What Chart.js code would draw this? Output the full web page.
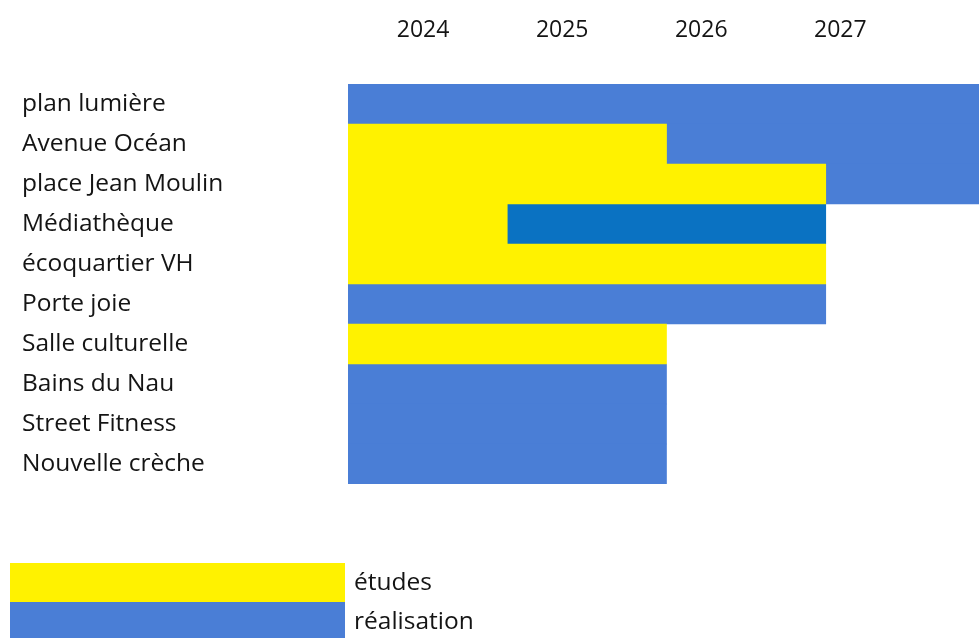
<!DOCTYPE html>
<html>
<head>
<meta charset="utf-8">
<title>Planning des projets</title>
<script src="https://cdn.jsdelivr.net/npm/chart.js@4/dist/chart.umd.min.js"></script>
<style>
  html, body { margin: 0; padding: 0; overflow: hidden; background: #fff; }
  #wrap { position: absolute; left: 0; top: 0; }
</style>
</head>
<body>
<div id="wrap"><canvas id="planning" width="985" height="638"></canvas></div>
<script>
var projects = ['plan lumière', 'Avenue Océan', 'place Jean Moulin', 'Médiathèque', 'écoquartier VH',
                'Porte joie', 'Salle culturelle', 'Bains du Nau', 'Street Fitness', 'Nouvelle crèche'];
var years = ['2024', '2025', '2026', '2027'];

// [début, fin] de chaque phase, null quand il n'y en a pas
var etudes = [null, [2024, 2026], [2024, 2027], [2024, 2025], [2024, 2027],
              null, [2024, 2026], null, null, null];
var realisation = [[2024, 2028], [2026, 2028], [2027, 2028], [2025, 2027], null,
                   [2024, 2027], null, [2024, 2026], [2024, 2026], [2024, 2026]];

var YELLOW = '#fff200';
var BLUE = '#4a7ed6';
var DARK_BLUE = '#0a72c2';
var TEXT = '#141414';
var FONT = '"Open Sans"';

// légende en blocs empilés sous le planning
var legendBlocks = {
  id: 'legendBlocks',
  afterDraw: function(chart) {
    var ctx = chart.ctx;
    var items = Chart.defaults.plugins.legend.labels.generateLabels(chart);
    ctx.save();
    ctx.font = '24.5px ' + FONT;
    ctx.textBaseline = 'middle';
    ctx.textAlign = 'left';
    items.forEach(function(item, i) {
      var top = 563 + i * 39;
      ctx.fillStyle = item.fillStyle;
      ctx.fillRect(10, top, 335, 39);
      ctx.fillStyle = TEXT;
      ctx.fillText(item.text, 354, top + 20);
    });
    ctx.restore();
  }
};

new Chart(document.getElementById('planning'), {
  type: 'bar',
  data: {
    labels: projects,
    datasets: [
      {
        label: 'études',
        data: etudes,
        backgroundColor: YELLOW,
        grouped: false,
        barPercentage: 1,
        categoryPercentage: 1,
        borderWidth: 0
      },
      {
        label: 'réalisation',
        data: realisation,
        backgroundColor: function(c) {
          return projects[c.dataIndex] === 'Médiathèque' ? DARK_BLUE : BLUE;
        },
        grouped: false,
        barPercentage: 1,
        categoryPercentage: 1,
        borderWidth: 0
      }
    ]
  },
  options: {
    indexAxis: 'y',
    responsive: false,
    animation: false,
    layout: { padding: { left: 22, top: 0, right: 0, bottom: 154 } },
    plugins: {
      legend: { display: false },
      tooltip: { enabled: false }
    },
    scales: {
      x: {
        type: 'linear',
        min: 2024,
        max: 2028,
        display: false
      },
      x2: {
        type: 'linear',
        position: 'top',
        min: 2023.46,
        max: 2028.04,
        grid: { display: false },
        border: { display: false },
        afterBuildTicks: function(scale) {
          scale.ticks = years.map(function(y) { return { value: +y }; });
        },
        afterFit: function(scale) { scale.height = 84; },
        ticks: {
          color: TEXT,
          padding: 32,
          font: { family: FONT, size: 23 },
          callback: function(v) { return String(v); }
        }
      },
      y: {
        type: 'category',
        grid: { display: false },
        border: { display: false },
        afterFit: function(scale) { scale.width = 326; },
        ticks: {
          crossAlign: 'far',
          padding: 0,
          color: TEXT,
          font: { family: FONT, size: 24.5 }
        }
      }
    }
  },
  plugins: [legendBlocks]
});
</script>
</body>
</html>
